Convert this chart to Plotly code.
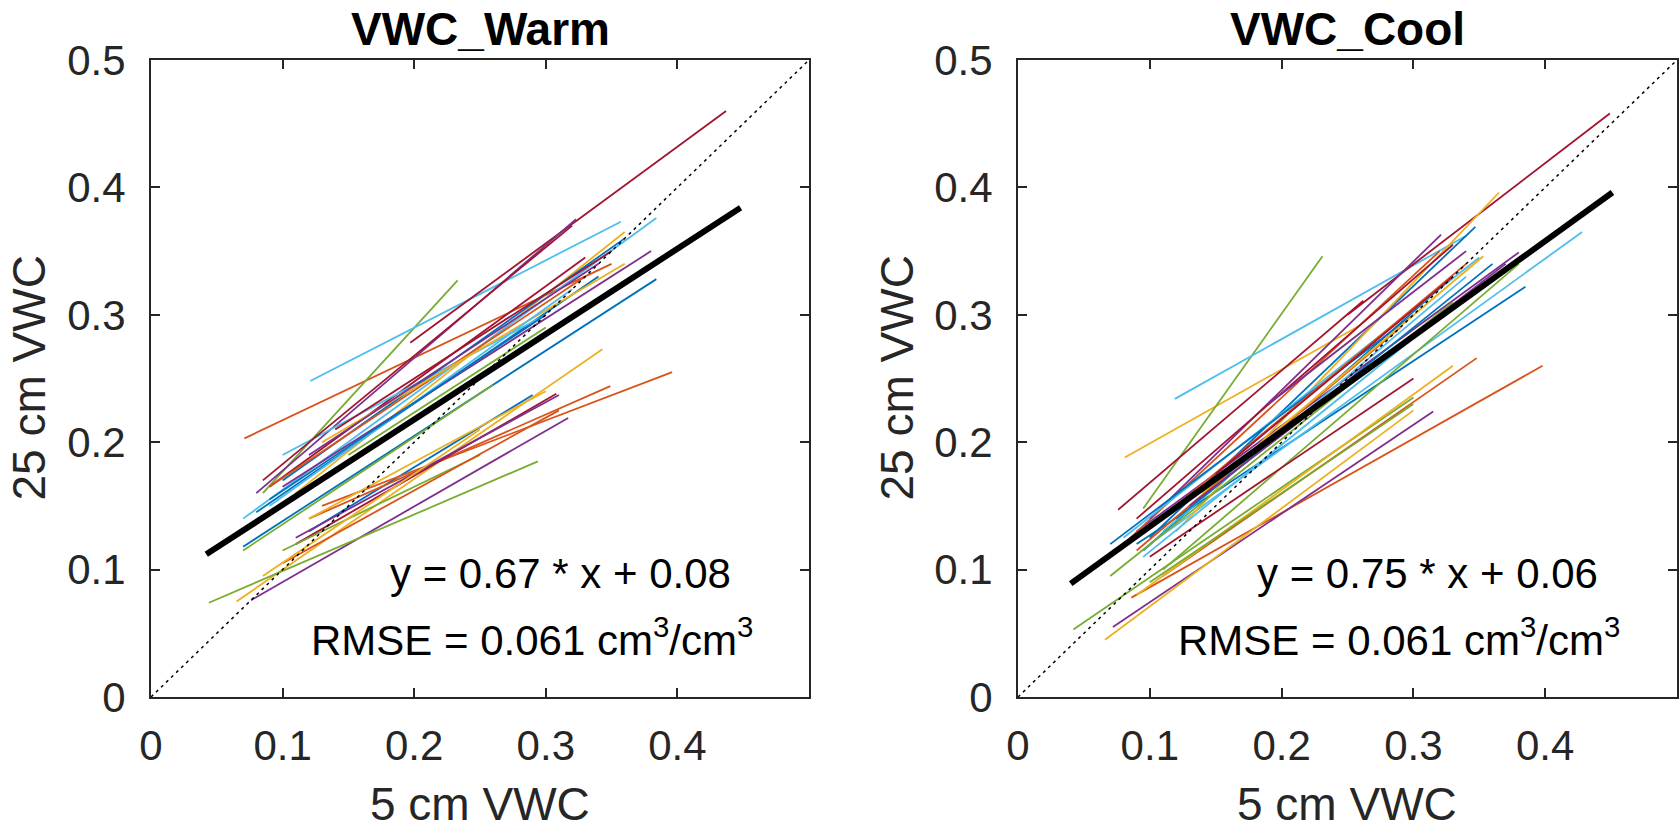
import plotly.graph_objects as go

# ---------------- data ----------------
tick_vals_x = [0, 0.1, 0.2, 0.3, 0.4]
tick_text_x = ["0", "0.1", "0.2", "0.3", "0.4"]
tick_vals_y = [0, 0.1, 0.2, 0.3, 0.4, 0.5]
tick_text_y = ["0", "0.1", "0.2", "0.3", "0.4", "0.5"]

panel_titles = ["VWC_Warm", "VWC_Cool"]
x_label = "5 cm VWC"
y_label = "25 cm VWC"

# segment endpoints, Warm panel (order follows the colour cycle)
warm_x0 = [0.070, 0.071, 0.065, 0.076, 0.085, 0.121, 0.197,
           0.120, 0.130, 0.110, 0.080, 0.044, 0.070, 0.090,
           0.080, 0.120, 0.120, 0.100, 0.070, 0.100, 0.110,
           0.100, 0.090, 0.130, 0.110, 0.100, 0.090, 0.085,
           0.090, 0.100, 0.085, 0.120, 0.150, 0.130, 0.140]
warm_y0 = [0.118, 0.203, 0.075, 0.076, 0.160, 0.248, 0.278,
           0.130, 0.150, 0.160, 0.160, 0.074, 0.140, 0.165,
           0.145, 0.140, 0.140, 0.165, 0.115, 0.190, 0.120,
           0.170, 0.165, 0.200, 0.125, 0.115, 0.150, 0.170,
           0.155, 0.105, 0.095, 0.190, 0.190, 0.170, 0.210]
warm_x1 = [0.384, 0.350, 0.343, 0.317, 0.233, 0.357, 0.437,
           0.290, 0.396, 0.360, 0.323, 0.294, 0.384, 0.330,
           0.340, 0.349, 0.300, 0.380, 0.260, 0.300, 0.308,
           0.360, 0.330, 0.360, 0.310, 0.250, 0.320, 0.320,
           0.300, 0.310, 0.250, 0.340, 0.300, 0.350, 0.350]
warm_y1 = [0.328, 0.340, 0.273, 0.219, 0.327, 0.373, 0.460,
           0.237, 0.255, 0.365, 0.375, 0.185, 0.376, 0.345,
           0.330, 0.244, 0.240, 0.350, 0.245, 0.300, 0.238,
           0.360, 0.330, 0.340, 0.237, 0.190, 0.320, 0.370,
           0.300, 0.225, 0.210, 0.340, 0.290, 0.320, 0.350]

# segment endpoints, Cool panel
cool_x0 = [0.090, 0.086, 0.081, 0.072, 0.095, 0.119, 0.076,
           0.100, 0.110, 0.066, 0.090, 0.042, 0.100, 0.250,
           0.095, 0.080, 0.120, 0.100, 0.070, 0.080, 0.090,
           0.070, 0.120, 0.090, 0.190, 0.100, 0.110, 0.150,
           0.120, 0.090, 0.140, 0.130, 0.110, 0.095, 0.100]
cool_y0 = [0.120, 0.078, 0.188, 0.055, 0.148, 0.234, 0.147,
           0.125, 0.095, 0.045, 0.130, 0.053, 0.120, 0.300,
           0.115, 0.120, 0.130, 0.140, 0.095, 0.125, 0.140,
           0.120, 0.150, 0.080, 0.230, 0.090, 0.130, 0.175,
           0.140, 0.115, 0.160, 0.150, 0.100, 0.110, 0.110]
cool_x1 = [0.385, 0.398, 0.260, 0.315, 0.231, 0.340, 0.262,
           0.347, 0.348, 0.300, 0.380, 0.300, 0.428, 0.449,
           0.330, 0.320, 0.365, 0.321, 0.330, 0.350, 0.330,
           0.300, 0.340, 0.330, 0.340, 0.300, 0.340, 0.330,
           0.360, 0.290, 0.353, 0.370, 0.380, 0.310, 0.300]
cool_y1 = [0.322, 0.260, 0.292, 0.224, 0.346, 0.362, 0.311,
           0.369, 0.266, 0.225, 0.349, 0.235, 0.365, 0.458,
           0.330, 0.350, 0.396, 0.363, 0.310, 0.345, 0.355,
           0.300, 0.340, 0.260, 0.350, 0.230, 0.330, 0.330,
           0.340, 0.290, 0.346, 0.340, 0.340, 0.290, 0.250]

# overall fit lines
warm_fit_x = [0.042, 0.448]
warm_fit_y = [0.112, 0.384]
cool_fit_x = [0.040, 0.451]
cool_fit_y = [0.089, 0.396]

one_to_one = [0, 0.5]

fit_texts = ["y = 0.67 * x + 0.08", "y = 0.75 * x + 0.06"]
rmse_texts = ["RMSE = 0.061 cm<sup>3</sup>/cm<sup>3</sup>",
              "RMSE = 0.061 cm<sup>3</sup>/cm<sup>3</sup>"]

# ---------------- style ----------------
palette = ["#0072BD", "#D95319", "#EDB120", "#7E2F8E",
           "#77AC30", "#4DBEEE", "#A2142F"]
W, H = 1680, 829
FONT = "Liberation Sans, Arial, Helvetica, sans-serif"
AX = "#262626"

xdom = [[151 / W, 809 / W], [1018 / W, 1677 / W]]
ydom = [(H - 697) / H, (H - 60) / H]

fig = go.Figure()

panels = [
    (warm_x0, warm_y0, warm_x1, warm_y1, warm_fit_x, warm_fit_y),
    (cool_x0, cool_y0, cool_x1, cool_y1, cool_fit_x, cool_fit_y),
]

for p, (x0, y0, x1, y1, fx, fy) in enumerate(panels):
    xa = "x" if p == 0 else "x2"
    ya = "y" if p == 0 else "y2"
    for i in range(len(x0)):
        fig.add_trace(go.Scatter(
            x=[x0[i], x1[i]], y=[y0[i], y1[i]], mode="lines",
            line=dict(color=palette[i % len(palette)], width=1.8),
            xaxis=xa, yaxis=ya, showlegend=False, hoverinfo="skip"))
    fig.add_trace(go.Scatter(
        x=one_to_one, y=one_to_one, mode="lines",
        line=dict(color="black", width=1.5, dash="3px,4px"),
        xaxis=xa, yaxis=ya, showlegend=False, hoverinfo="skip"))
    fig.add_trace(go.Scatter(
        x=fx, y=fy, mode="lines",
        line=dict(color="black", width=6),
        xaxis=xa, yaxis=ya, showlegend=False, hoverinfo="skip"))

axis_common = dict(
    range=[0, 0.5], showgrid=False, zeroline=False, automargin=False,
    showline=True, linecolor=AX, linewidth=2, mirror="ticks",
    ticks="inside", ticklen=9, tickwidth=1.5, tickcolor=AX,
    tickfont=dict(family=FONT, size=42, color=AX),
    fixedrange=True,
)

layout = dict(
    template="none",
    width=W, height=H, autosize=False,
    margin=dict(l=0, r=0, t=0, b=0, pad=0),
    paper_bgcolor="white", plot_bgcolor="white",
    showlegend=False,
)
for p in range(2):
    sx = "" if p == 0 else "2"
    layout["xaxis" + sx] = dict(axis_common, domain=xdom[p],
                                anchor="y" + sx,
                                tickvals=tick_vals_x, ticktext=tick_text_x,
                                ticklabelstandoff=11)
    layout["yaxis" + sx] = dict(axis_common, domain=ydom,
                                anchor="x" + sx,
                                tickvals=tick_vals_y, ticktext=tick_text_y,
                                ticklabelstandoff=15)
fig.update_layout(**layout)

ann = []
for p in range(2):
    sx = "" if p == 0 else "2"
    cx = (xdom[p][0] + xdom[p][1]) / 2
    ann.append(dict(text="<b>" + panel_titles[p] + "</b>", x=cx, y=(H - 29) / H,
                    xref="paper", yref="paper", xanchor="center", yanchor="middle",
                    showarrow=False, font=dict(family=FONT, size=46, color="black")))
    ann.append(dict(text=x_label, x=cx, y=(H - 804) / H,
                    xref="paper", yref="paper", xanchor="center", yanchor="middle",
                    showarrow=False, font=dict(family=FONT, size=46, color=AX)))
    ylx = 29 if p == 0 else 897
    ann.append(dict(text=y_label, x=ylx / W, y=(ydom[0] + ydom[1]) / 2,
                    xref="paper", yref="paper", xanchor="center", yanchor="middle",
                    textangle=-90, showarrow=False,
                    font=dict(family=FONT, size=46, color=AX)))
    ann.append(dict(text=fit_texts[p], x=0.18, y=0.097,
                    xref="x" + sx, yref="y" + sx, xanchor="left", yanchor="middle",
                    showarrow=False, font=dict(family=FONT, size=42, color="black")))
    ann.append(dict(text=rmse_texts[p], x=0.12, y=0.047,
                    xref="x" + sx, yref="y" + sx, xanchor="left", yanchor="middle",
                    showarrow=False, font=dict(family=FONT, size=42, color="black")))
fig.update_layout(annotations=ann)

fig.write_html("out.html")
